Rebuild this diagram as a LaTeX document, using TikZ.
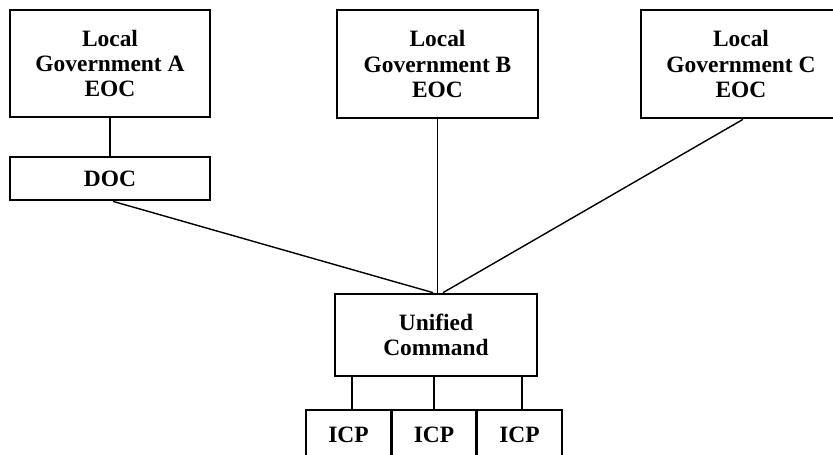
\documentclass[tikz,border=0pt]{standalone}
\usepackage{fontspec}
\setmainfont{Liberation Serif}
\usepackage{tikz}

\begin{document}
\begin{tikzpicture}[x=0.03cm, y=-0.03cm,
  box/.style={draw, line width=2.3pt, fill=white, align=center, inner sep=0pt,
    font=\fontsize{20}{21.5}\selectfont\bfseries},
  link/.style={line width=1.2pt}]
 \useasboundingbox (0,0) rectangle (833,455);
 \clip (0,0) rectangle (833,455);

	% Centres
 \node[box, minimum width=6cm, minimum height=3.21cm] (eocA) at (110,63.5) {Local\\Government A\\EOC};
 \node[box, minimum width=6.03cm, minimum height=3.24cm] (eocB) at (437.5,64) {Local\\Government B\\EOC};
 \node[box, minimum width=6cm, minimum height=3.24cm] (eocC) at (741,64) {Local\\Government C\\EOC};
 \node[box, minimum width=6cm, minimum height=1.29cm] (doc) at (110,178.5) {DOC};

	% Commandement
 \node[box, minimum width=6.06cm, minimum height=2.46cm] (uc) at (436,335) {Unified\\Command};
 \node[box, minimum width=2.55cm, minimum height=1.5cm] (icp1) at (348.5,435) {ICP};
 \node[box, minimum width=2.55cm, minimum height=1.5cm] (icp2) at (434,435) {ICP};
 \node[box, minimum width=2.55cm, minimum height=1.5cm] (icp3) at (519.5,435) {ICP};

	% Liaisons
 \draw[link] (eocA) -- (doc);
 \draw[link] ([xshift=0.09cm]doc.south) -- ([xshift=-0.09cm]uc.north);
 \draw[link] (eocB) -- (eocB |- uc.north);
 \draw[link] ([xshift=0.06cm]eocC.south) -- ([xshift=0.21cm]uc.north);

 \draw[link] ([xshift=0.1cm]icp1.north) -- ([xshift=0.1cm]icp1.north |- uc.south);
 \draw[link] (icp2.north) -- (icp2.north |- uc.south);
 \draw[link] ([xshift=0.08cm]icp3.north) -- ([xshift=0.08cm]icp3.north |- uc.south);

\end{tikzpicture}
\end{document}
